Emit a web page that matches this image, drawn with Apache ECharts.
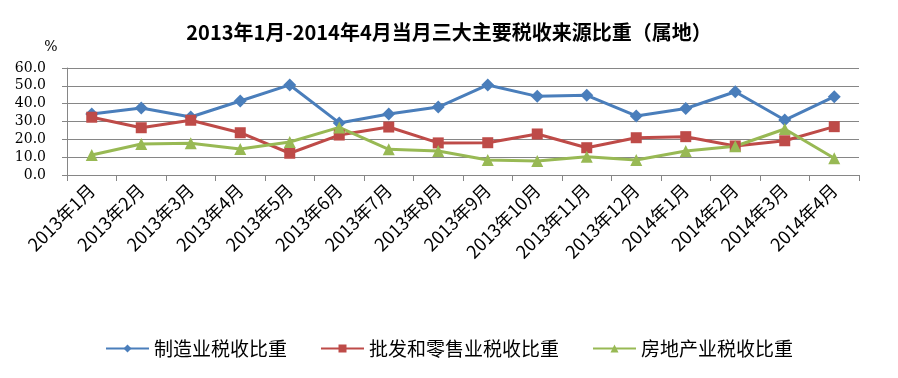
<!DOCTYPE html>
<html>
<head>
<meta charset="utf-8">
<script src="https://cdn.jsdelivr.net/npm/echarts@6/dist/echarts.min.js"></script>
<style>
  html, body { margin: 0; padding: 0; background: #fff; }
  #chart { width: 898px; height: 378px; }
</style>
</head>
<body>
<div id="chart"></div>
<script>
const months = ['2013年1月', '2013年2月', '2013年3月', '2013年4月', '2013年5月', '2013年6月',
  '2013年7月', '2013年8月', '2013年9月', '2013年10月', '2013年11月', '2013年12月',
  '2014年1月', '2014年2月', '2014年3月', '2014年4月'];
const manufacturing = [34.2, 37.6, 32.5, 41.5, 50.5, 29.2, 34.2, 38.1, 50.5, 44.1, 44.7, 33.1, 37.3, 46.7, 30.8, 43.9];
const wholesaleRetail = [32.4, 26.5, 30.7, 23.7, 12.2, 22.4, 26.9, 18.0, 18.1, 23.0, 15.3, 20.9, 21.5, 16.3, 19.2, 27.1];
const realEstate = [11.2, 17.4, 17.8, 14.6, 18.5, 26.7, 14.4, 13.5, 8.4, 7.9, 10.3, 8.4, 13.5, 16.1, 25.8, 9.4];
const seriesNames = ['制造业税收比重', '批发和零售业税收比重', '房地产业税收比重'];

const chart = echarts.init(document.getElementById('chart'));
const cjk = '"Noto Sans CJK SC", sans-serif';
const serif = '"DejaVu Serif", "Noto Sans CJK SC", serif';

const line = (name, data, color, symbol, size) => ({
  name,
  type: 'line',
  data,
  symbol,
  symbolSize: size,
  lineStyle: { color, width: 3 },
  itemStyle: { color },
  animation: false,
});

chart.setOption({
  backgroundColor: '#fff',
  title: {
    text: '2013年1月-2014年4月当月三大主要税收来源比重（属地）',
    left: 'center',
    top: 17,
    textStyle: { fontFamily: cjk, fontSize: 20, fontWeight: 'bold', color: '#000' },
  },
  legend: {
    data: seriesNames,
    top: 334,
    left: 'center',
    itemWidth: 43,
    itemHeight: 10,
    itemGap: 33,
    textStyle: { fontFamily: cjk, fontSize: 19, color: '#000' },
  },
  grid: { left: 67, right: 39, top: 68, bottom: 203 },
  xAxis: {
    type: 'category',
    data: months,
    boundaryGap: true,
    axisLine: { lineStyle: { color: '#868686' } },
    axisTick: { show: true, length: 6, lineStyle: { color: '#868686' } },
    axisLabel: {
      rotate: 45,
      interval: 0,
      fontFamily: cjk,
      fontSize: 18,
      color: '#000',
      margin: 12,
    },
  },
  yAxis: {
    type: 'value',
    name: '%',
    nameLocation: 'end',
    nameGap: 14,
    nameTextStyle: { fontFamily: serif, fontSize: 14, color: '#000', align: 'center', padding: [0, 32, 0, 0] },
    min: 0,
    max: 60,
    interval: 10,
    axisLine: { show: true, lineStyle: { color: '#868686' } },
    axisTick: { show: true, length: 5, lineStyle: { color: '#868686' } },
    splitLine: { lineStyle: { color: '#868686', width: 1 } },
    axisLabel: {
      formatter: v => v.toFixed(1),
      fontFamily: serif,
      fontSize: 14,
      color: '#000',
      margin: 21,
    },
  },
  series: [
    line(seriesNames[0], manufacturing, '#4a7ebb', 'diamond', 13),
    line(seriesNames[1], wholesaleRetail, '#be4b48', 'rect', 11),
    line(seriesNames[2], realEstate, '#98b954', 'triangle', 12),
  ],
});
</script>
</body>
</html>
